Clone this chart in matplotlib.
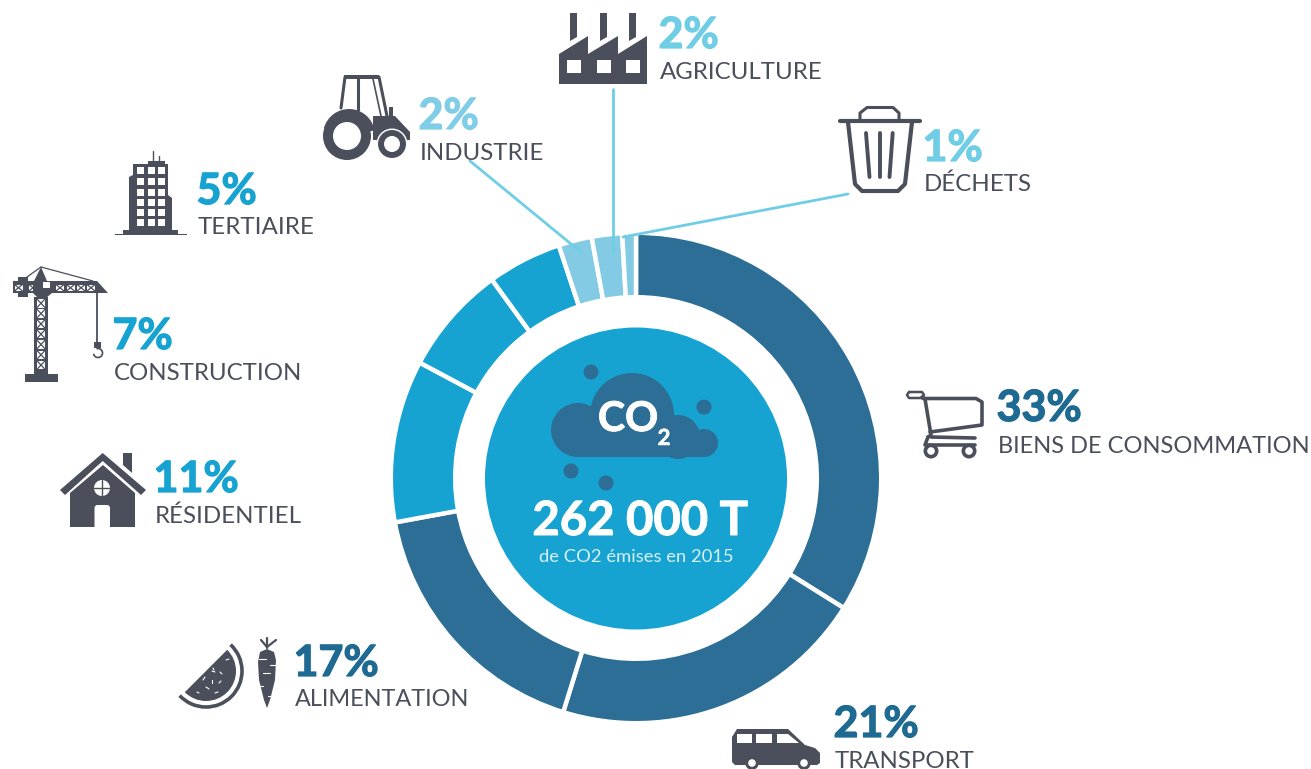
from matplotlib import pyplot as plt
from matplotlib.patches import Circle, Polygon, Rectangle, Wedge, Arc, FancyBboxPatch
import matplotlib.patheffects as pe
import numpy as np

categories = ['BIENS DE CONSOMMATION', 'TRANSPORT', 'ALIMENTATION', 'RÉSIDENTIEL',
              'CONSTRUCTION', 'TERTIAIRE', 'INDUSTRIE', 'AGRICULTURE', 'DÉCHETS']
pct_labels = ['33%', '21%', '17%', '11%', '7%', '5%', '2%', '2%', '1%']
slices = [33.9, 20.9, 17.3, 10.7, 7.2, 4.9, 2.2, 2.0, 0.9]

DARK = '#2C6E95'
MID = '#17A3D2'
LIGHT = '#83CBE4'
ICON = '#4A4F5B'
LEADER = '#6FCEE5'
wedge_colors = [DARK, DARK, DARK, MID, MID, MID, LIGHT, LIGHT, LIGHT]
pct_colors = ['#1F6A92', '#1F6A92', '#1F6A92', MID, MID, MID, '#7FCDE6', LEADER, LEADER]

# label anchors: x, baseline of the percent, baseline of the name
label_x = [998, 835, 295, 155, 114, 198, 420, 660, 924]
pct_y = [421, 737, 676, 492, 349, 204, 129, 48, 161]
name_y = [453, 768, 706, 523, 380, 234, 160, 79, 191]
name_size = [17.0, 17.3, 16.95, 17.3, 17.3, 17.4, 17.3, 17.3, 17.3]

fig = plt.figure(1, figsize=(13.11, 7.69), dpi=100)
ax = fig.add_axes([0, 0, 1, 1])

# donut
ax.pie(slices, colors=wedge_colors, center=(636, 478), radius=245.2, startangle=-90,
       counterclock=True, wedgeprops=dict(width=64.4, edgecolor='white', linewidth=3.2))
ax.set_xlim(0, 1311)
ax.set_ylim(769, 0)
ax.set_aspect('equal')
ax.axis('off')

ax.add_patch(Circle((636, 478.5), 151, color=MID, lw=0))


def poly(pts, color=ICON, z=3):
    ax.add_patch(Polygon(pts, closed=True, facecolor=color, edgecolor='none', zorder=z))


def rect(x0, y0, x1, y1, color=ICON, z=3):
    ax.add_patch(Rectangle((x0, y0), x1 - x0, y1 - y0, facecolor=color, edgecolor='none', zorder=z))


def circ(x, y, r, color=ICON, z=3):
    ax.add_patch(Circle((x, y), r, facecolor=color, edgecolor='none', zorder=z))


def line(xs, ys, lw=1.8, color=ICON, z=3):
    ax.plot(xs, ys, color=color, lw=lw, solid_capstyle='round', solid_joinstyle='round', zorder=z)


def heavy(txt, color, w=0.7):
    # Lato Bold with a thin outline, the reference weight is heavier
    txt.set_path_effects([pe.withStroke(linewidth=w, foreground=color)])


# cloud
circ(578, 430, 27, DARK)
circ(632, 415, 42, DARK)
circ(678, 437, 22, DARK)
circ(704, 443, 14, DARK)
rect(578, 436, 704, 457, DARK)
for x, y in [(591, 372), (704, 407), (571, 471), (606, 483)]:
    circ(x, y, 7.5, DARK)
heavy(ax.text(628, 431, 'CO', color='white', fontsize=29.5, family='Lato', weight='bold', ha='center', va='baseline', zorder=5), 'white')
heavy(ax.text(664, 445, '2', color='white', fontsize=16, family='Lato', weight='bold', ha='center', va='baseline', zorder=5), 'white', 0.4)
heavy(ax.text(640, 535, '262 000 T', color='white', fontsize=34, family='Lato', weight='bold', ha='center', va='baseline', zorder=5), 'white')
ax.text(636.5, 562, 'de CO2 émises en 2015', color='#D8F0F8', fontsize=13.2, family='Lato', ha='center', va='baseline', zorder=5)

# leader lines
line([470, 582], [161, 253], lw=2, color=LEADER, z=2.5)
line([613, 613], [89, 253], lw=2, color=LEADER, z=2.5)
line([848, 623], [194, 237], lw=2, color=LEADER, z=2.5)

# labels
for i in range(len(categories)):
    heavy(ax.text(label_x[i] - 1.5, pct_y[i], pct_labels[i], color=pct_colors[i], fontsize=31,
                  family='Lato', weight='bold', ha='left', va='baseline', zorder=5), pct_colors[i], 0.9)
    ax.text(label_x[i] - 0.5, name_y[i], categories[i], color=ICON, fontsize=name_size[i],
            family='Lato', ha='left', va='baseline', zorder=5)

# tractor
line([341, 345, 379, 387], [108, 77, 77, 116], lw=2.2)
line([358, 358], [79, 110], lw=2.2)
line([373, 381], [79, 116], lw=1.2)
rect(344, 75, 379, 79)
poly([(373, 116), (395, 116), (410, 132), (410, 140), (373, 140)])
rect(389, 107, 393, 117)
ax.add_patch(Wedge((349, 135), 26, 195, 350, facecolor=ICON, edgecolor='none', zorder=3))
circ(347, 136, 24)
circ(347, 136, 14, 'white', 4)
circ(392, 144, 15.5, 'white', 3.5)
circ(392, 144, 14, ICON, 3.6)
circ(392, 144, 8, 'white', 4)

# factory
poly([(559, 84), (559, 54), (588, 36), (588, 54), (618, 36), (618, 54), (647, 36), (647, 84)])
for x in [570, 600, 629]:
    poly([(x, 13), (x + 7, 13), (x + 7, 37), (x, 41)])
for x in [567, 597, 626]:
    rect(x, 60, x + 14, 73, 'white', 4)

# bin
line([840, 920], [120.7, 120.7], lw=3)
line([860, 860, 867, 893, 899, 899], [119, 113, 107.5, 107.5, 113, 119], lw=2.2)
line([848, 855, 862, 898, 905, 912], [122, 184, 191, 191, 184, 122], lw=3)
line([866, 869.5], [133, 177], lw=2.8)
line([879.5, 879.5], [133, 177], lw=2.8)
line([892.7, 889.5], [133, 177], lw=2.8)

# building
poly([(129, 177), (133, 175), (133, 164), (148, 164), (148, 161), (165, 161), (165, 164), (168, 164), (168, 195),
      (172, 198), (172, 230), (178, 230), (178, 234), (187, 234), (187, 235), (115, 235), (115, 234), (123, 234), (123, 230), (129, 230)])
for x in [137, 147.5, 158]:
    for y in [167.3, 178, 188.7, 198.7, 209, 219.3]:
        rect(x, y, x + 7, y + 7, 'white', 4)
line([153, 153], [151, 161], lw=1)
line([159, 159], [156, 161], lw=1)

# crane
rect(34, 297, 48, 374)
rect(25, 374, 58, 382)
poly([(13, 281), (97, 281), (108, 293), (13, 293)])
rect(18, 277, 28, 297)
line([41, 27], [267, 277], lw=0.9)
line([41, 93], [267, 281], lw=0.9)
poly([(41, 267), (34, 281), (47, 281)])
for y in np.arange(299, 370, 10.3):
    rect(37, y, 45, y + 8.5, 'white', 4)
    line([37, 45], [y, y + 8.5], lw=0.9, z=5)
    line([37, 45], [y + 8.5, y], lw=0.9, z=5)
for x in [14.5, 29, 56, 66.5, 77, 87]:
    rect(x, 284.5, x + 8, 291, 'white', 4)
    line([x, x + 8], [284.5, 291], lw=0.9, z=5)
    line([x, x + 8], [291, 284.5], lw=0.9, z=5)
poly([(33, 281), (52, 281), (52, 293), (46, 298), (38, 298), (33, 293)], ICON, 5.5)
rect(43, 282, 50, 288, 'white', 6)
line([97, 97], [293, 342], lw=1.3)
rect(94, 342, 101, 348)
ax.add_patch(Arc((98, 353), 9, 9, theta1=-110, theta2=170, color=ICON, lw=1.2, zorder=3))

# house
poly([(60, 490), (102.7, 453), (146, 490), (141, 495), (102.7, 461), (65, 495)])
poly([(70, 527), (70, 493), (103, 465), (135, 493), (135, 527)])
poly([(123, 453), (132, 453), (132, 473), (123, 465)])
circ(102, 488, 8, 'white', 4)
line([102, 102], [480, 496], lw=1, z=5)
line([94, 110], [488, 488], lw=1, z=5)
ax.add_patch(FancyBboxPatch((94.5, 505), 15.5, 24, boxstyle='round,pad=0,rounding_size=3',
                            facecolor='white', edgecolor='none', zorder=4))

# watermelon
ax.add_patch(Wedge((206, 671), 30, -45, 135, facecolor=ICON, edgecolor='none', zorder=3))
ax.add_patch(Arc((206, 671), 72, 72, theta1=-47, theta2=137, color=ICON, lw=2.6, zorder=3))
for x, y, dx, dy in [(226, 660, 3, -1), (212, 671, 3, 1), (220, 672, 2, 2), (203, 680, 2, -3), (212, 680, 0, 3),
                     (221, 681, -2, 2), (206, 687, 3, 2), (215, 693, 3, -1), (197, 692, 2, 1), (213, 668, 1, 2)]:
    line([x, x + dx], [y, y + dy], lw=0.8, color='white', z=4)

# carrot
poly([(258, 662), (260, 652), (267, 649), (274, 652), (276, 660), (275, 680), (270, 700), (267, 708), (264, 700), (259, 680)])
line([261, 267, 276], [640, 647, 640], lw=1.6)
line([267, 267], [638, 648], lw=1.6)
for x0, x1, y in [(259, 266, 659), (270, 276, 665), (263, 270, 673), (259, 263, 686), (268, 273, 696)]:
    line([x0, x1], [y, y], lw=0.8, color='white', z=4)

# van
poly([(737, 729), (788, 729), (805, 745), (815, 748), (820, 753), (820, 763), (817, 765), (735, 765), (732, 762), (732, 737)])
rect(737, 734, 752, 743, 'white', 4)
rect(756, 734, 772, 743, 'white', 4)
poly([(777, 734), (788, 734), (799, 743), (777, 743)], 'white', 4)
for x in [752, 804]:
    circ(x, 763, 6.8, ICON, 3.6)
    circ(x, 763, 3.8, 'white', 4)

# cart
line([909, 922, 924, 922, 909, 907, 909], [392, 392, 395, 398, 398, 395, 392], lw=1.8)
line([922, 925, 931, 928], [397, 399, 435, 437], lw=2.6)
line([923, 976, 982, 982, 930], [398.5, 398.5, 402, 425, 432], lw=2.6)
line([931, 975], [437, 438], lw=2.6)
line([928, 925, 975], [437, 445, 445], lw=2.6)
for x in [931, 969]:
    circ(x, 451, 7.5)
    circ(x, 451, 3.8, 'white', 4)

fig.savefig('out.png', dpi=100)
